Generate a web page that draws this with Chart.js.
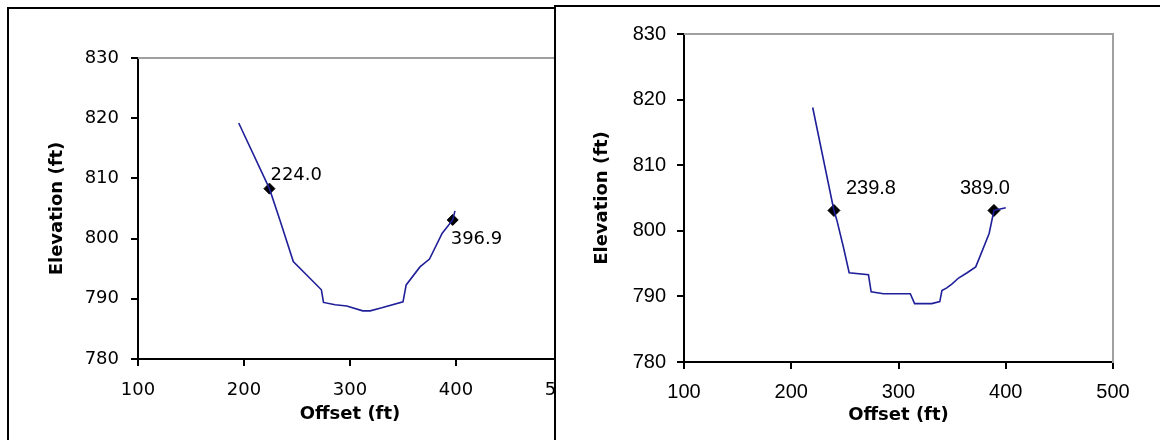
<!DOCTYPE html>
<html lang="en">
<head>
<meta charset="UTF-8">
<title>Cross sections</title>
<style>
  html, body { margin: 0; padding: 0; background: #fff; }
  body { width: 1160px; height: 440px; overflow: hidden; position: relative; }
  .panel { position: absolute; width: 640px; height: 470px; border: 2px solid #000; background: #fff; }
  #leftPanel { left: 7px; top: 7px; }
  #rightPanel { left: 554px; top: 5px; }
  canvas { display: block; }
</style>
</head>
<body>
<div class="panel" id="leftPanel"><canvas id="leftChart" width="640" height="470"></canvas></div>
<div class="panel" id="rightPanel"><canvas id="rightChart" width="640" height="470"></canvas></div>

<script src="https://cdn.jsdelivr.net/npm/chart.js"></script>
<script>
// left section
const leftOffset = [195, 224, 234, 246.5, 273, 275, 286, 297, 312, 319, 330, 350, 353, 366, 375, 387, 396.9, 399];
const leftElev   = [819.2, 808.3, 803.0, 796.2, 791.5, 789.4, 789.0, 788.8, 788.0, 788.0, 788.5, 789.5, 792.3, 795.3, 796.6, 800.9, 803.1, 804.6];
const leftMarkOffset = [224.0, 396.9];
const leftMarkElev   = [808.3, 803.1];

// right section
const rightOffset = [220, 239.8, 242.4, 248.5, 254, 272, 274.5, 286, 311, 315, 331, 338.5, 340.5, 345, 350, 356, 364, 372, 376, 384.5, 389, 400];
const rightElev   = [818.8, 803.1, 801.7, 797.6, 793.6, 793.3, 790.7, 790.4, 790.4, 788.9, 788.9, 789.2, 790.9, 791.3, 791.9, 792.8, 793.6, 794.5, 796.1, 799.6, 803.1, 803.5];
const rightMarkOffset = [239.8, 389.0];
const rightMarkElev   = [803.1, 803.1];

const xTicks = [100, 200, 300, 400, 500];
const yTicks = [780, 790, 800, 810, 820, 830];
const xTitle = 'Offset (ft)';
const yTitle = 'Elevation (ft)';

const W = 640, H = 470;

// grey top/right edge of the plot area
const plotFrame = {
  id: 'plotFrame',
  beforeDatasetsDraw(chart) {
    const { ctx, chartArea: a } = chart;
    ctx.save();
    ctx.strokeStyle = '#a0a0a0';
    ctx.lineWidth = 2;
    ctx.beginPath();
    ctx.moveTo(a.left, a.top);
    ctx.lineTo(a.right, a.top);
    ctx.lineTo(a.right, a.bottom + 1);
    ctx.stroke();
    ctx.restore();
  }
};

// offset value written next to each marker
const pointLabels = {
  id: 'pointLabels',
  afterDatasetsDraw(chart, args, opts) {
    const meta = chart.getDatasetMeta(1);
    const ds = chart.data.datasets[1];
    const ctx = chart.ctx;
    ctx.save();
    ctx.font = opts.font;
    ctx.fillStyle = '#000';
    ctx.textBaseline = 'middle';
    meta.data.forEach((pt, i) => {
      const o = opts.offsets[i];
      ctx.textAlign = o.align;
      ctx.fillText(ds.data[i].x.toFixed(1), pt.x + o.dx, pt.y + o.dy);
    });
    ctx.restore();
  }
};

function toPoints(xs, ys) {
  return xs.map((x, i) => ({ x: x, y: ys[i] }));
}

function drawSection(id, s) {
  const a = s.area;
  const tickGrid = { display: true, drawOnChartArea: false, drawTicks: true, tickLength: 7, color: '#000', lineWidth: 2 };
  return new Chart(document.getElementById(id), {
    type: 'scatter',
    data: {
      datasets: [{
        data: toPoints(s.offset, s.elev),
        showLine: true,
        borderColor: '#1f1f9a',
        borderWidth: 1.6,
        pointRadius: 0,
        tension: 0
      }, {
        data: toPoints(s.markOffset, s.markElev),
        pointStyle: 'rectRot',
        pointRadius: s.markRadius,
        backgroundColor: '#000',
        borderColor: '#000',
        borderWidth: 1
      }]
    },
    options: {
      responsive: false,
      animation: false,
      events: [],
      layout: { padding: { left: 0, top: a.top, right: W - a.right, bottom: 0 } },
      plugins: {
        legend: { display: false },
        tooltip: { enabled: false },
        pointLabels: { font: s.labelFont, offsets: s.labelOffsets }
      },
      scales: {
        x: {
          type: 'linear',
          min: xTicks[0],
          max: xTicks[xTicks.length - 1],
          ticks: { stepSize: xTicks[1] - xTicks[0], color: '#000', padding: s.xPad, font: s.tickFont, maxRotation: 0 },
          grid: tickGrid,
          border: { display: true, color: '#000', width: 2 },
          title: { display: true, text: xTitle, color: '#000', font: s.titleFont, padding: { top: 0, bottom: s.xTitlePad } },
          afterFit(scale) { scale.height = H - a.bottom; }
        },
        y: {
          type: 'linear',
          min: yTicks[0],
          max: yTicks[yTicks.length - 1],
          ticks: { stepSize: yTicks[1] - yTicks[0], color: '#000', padding: s.yPad, font: s.tickFont },
          grid: tickGrid,
          border: { display: true, color: '#000', width: 2 },
          title: { display: true, text: yTitle, color: '#000', font: s.titleFont, padding: { top: s.yTitlePad, bottom: 0 } },
          afterFit(scale) { scale.width = a.left; }
        }
      }
    },
    plugins: [plotFrame, pointLabels]
  });
}

drawSection('leftChart', {
  offset: leftOffset, elev: leftElev,
  markOffset: leftMarkOffset, markElev: leftMarkElev, markRadius: 5.5,
  area: { left: 129, top: 49, right: 553, bottom: 350 },
  tickFont: { family: 'DejaVu Sans', size: 18 },
  titleFont: { family: 'DejaVu Sans', size: 18, weight: 'bold' },
  xPad: 14, yPad: 12, xTitlePad: 54, yTitlePad: 38,
  labelFont: '18px "DejaVu Sans"',
  labelOffsets: [{ dx: 1, dy: -13, align: 'left' }, { dx: -2, dy: 19, align: 'left' }]
});

drawSection('rightChart', {
  offset: rightOffset, elev: rightElev,
  markOffset: rightMarkOffset, markElev: rightMarkElev, markRadius: 6,
  area: { left: 128, top: 27, right: 557, bottom: 355 },
  tickFont: { family: 'Liberation Sans', size: 20 },
  titleFont: { family: 'DejaVu Sans', size: 18, weight: 'bold' },
  xPad: 11, yPad: 11, xTitlePad: 51, yTitlePad: 36,
  labelFont: '20px "Liberation Sans"',
  labelOffsets: [{ dx: 12, dy: -22, align: 'left' }, { dx: -9, dy: -22, align: 'center' }]
});
</script>
</body>
</html>
